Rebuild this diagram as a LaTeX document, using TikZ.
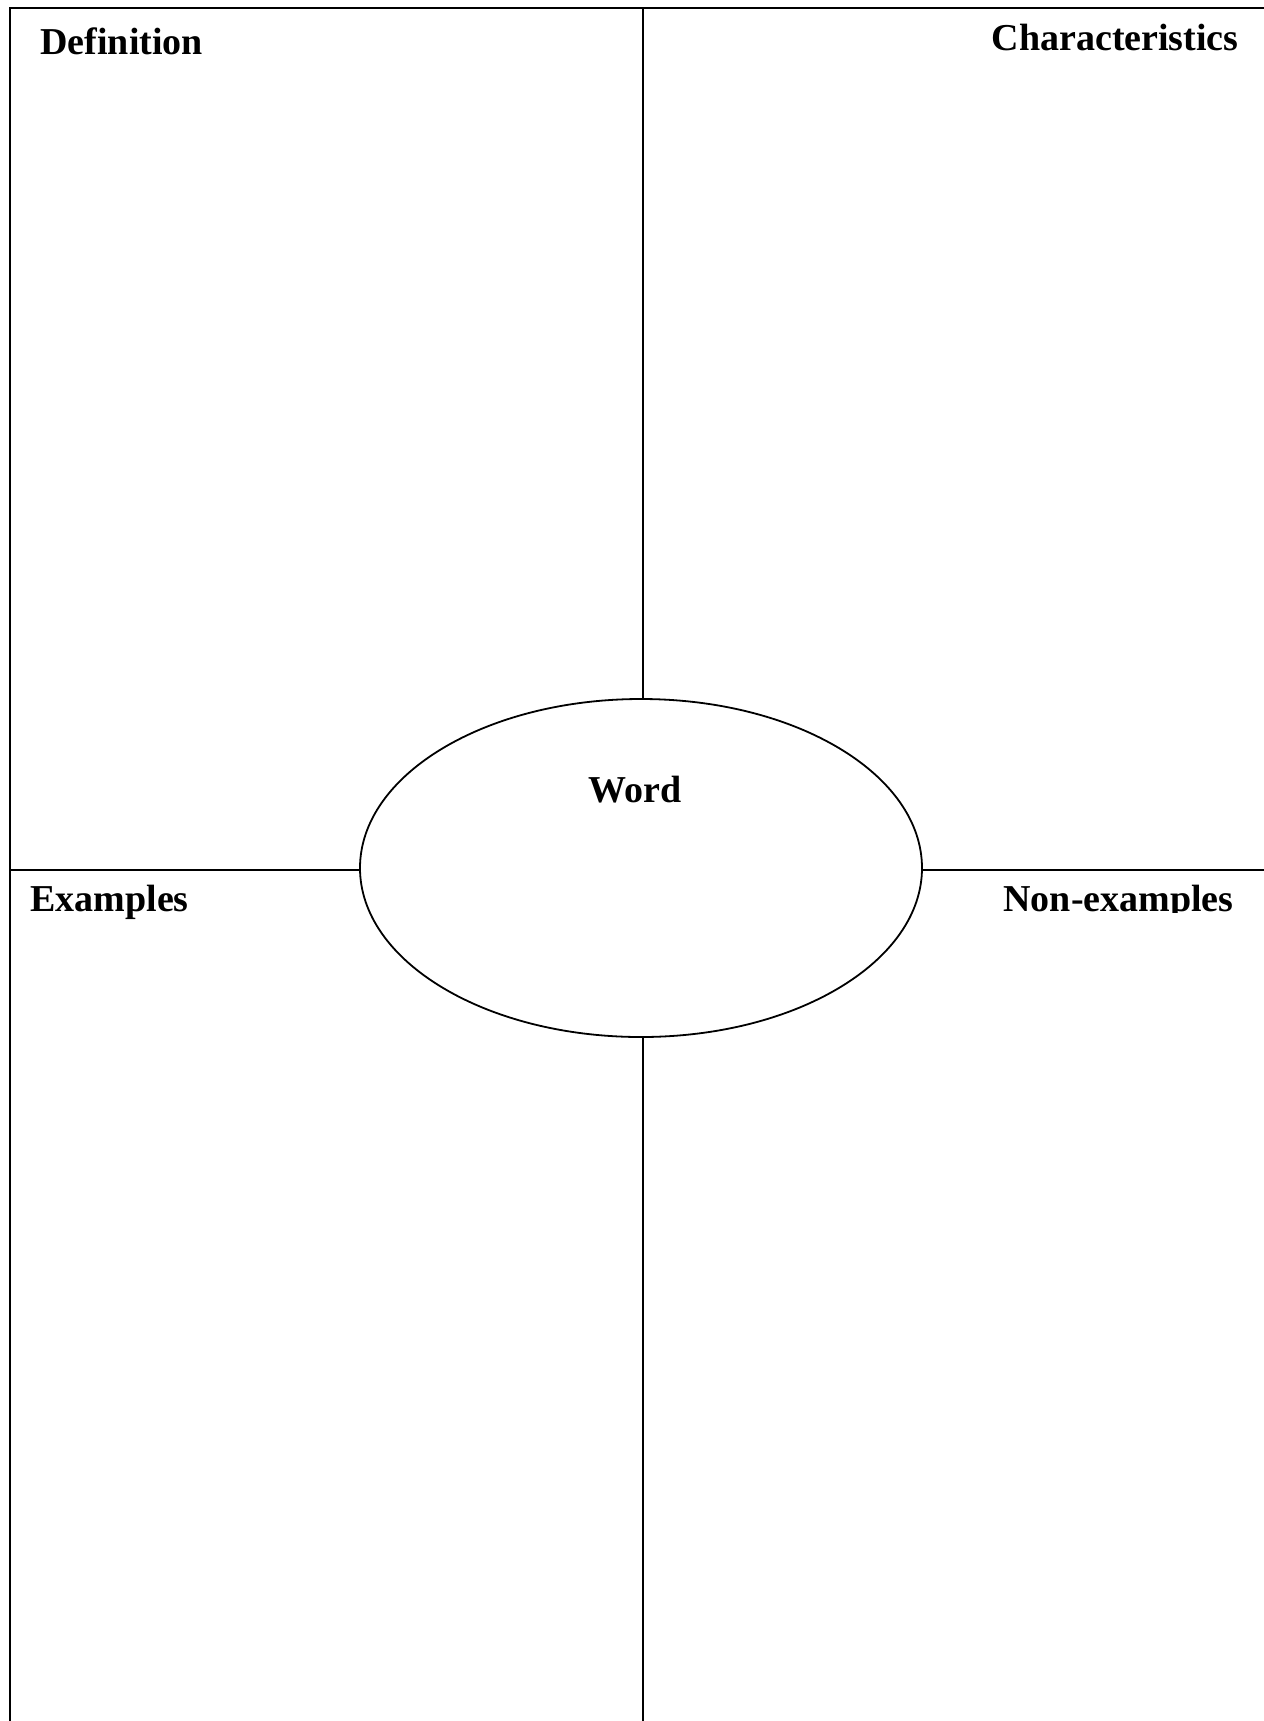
\documentclass[tikz,border=0pt]{standalone}
\usepackage{fontspec}
\setmainfont{Liberation Serif}
\usetikzlibrary{shapes.geometric}
\begin{document}
\begin{tikzpicture}[x=0.5pt,y=-0.5pt,
    heading/.style={font=\fontsize{19}{23}\selectfont\bfseries, inner sep=0pt},
    rule/.style={line width=1pt}]
  \useasboundingbox (0,0) rectangle (1264,1721);

  \coordinate (tl) at (10,8);
  \coordinate (tr) at (1264,8);
  \coordinate (bl) at (10,1721);
  \coordinate (tm) at (643,8);
  \coordinate (bm) at (643,1721);
  \coordinate (ml) at (10,870);
  \coordinate (mr) at (1264,870);

  \node[ellipse, draw, line width=0.9pt, minimum width=281pt, minimum height=169pt] (word) at (641,868) {};
  \node[heading, anchor=base] (wordtext) at (635,802) {Word};

  \draw[rule] (tr) -- (tl) -- (bl);
  \draw[rule] (tm) -- (tm |- word.north);
  \draw[rule] (bm |- word.south) -- (bm);
  \draw[rule] (ml) -- (ml -| word.west);
  \draw[rule] (word.east |- mr) -- (mr);

  \node[heading, anchor=base west] (def) at (40,54) {Definition};
  \node[heading, anchor=base east] (char) at (1239,50) {Characteristics};
  \node[heading, anchor=base west] (ex) at (30,911) {Examples};
  \begin{scope}
    \clip (990,860) rectangle (1264,912);
    \node[heading, anchor=base east] (nonex) at (1234,911) {Non-examples};
  \end{scope}
\end{tikzpicture}
\end{document}
